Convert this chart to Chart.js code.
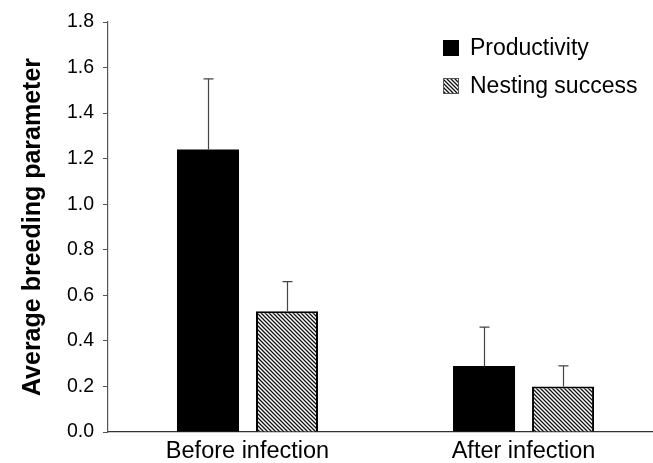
<!DOCTYPE html>
<html>
<head>
<meta charset="utf-8">
<script src="https://cdn.jsdelivr.net/npm/chart.js@4"></script>
<style>
html,body{margin:0;padding:0;background:#fff;}
#wrap{width:653px;height:463px;}
</style>
</head>
<body>
<div id="wrap"><canvas id="c" width="653" height="463"></canvas></div>
<script>
const categories = ['Before infection', 'After infection'];
const seriesLabels = ['Productivity', 'Nesting success'];
const productivity = [1.24, 0.29];
const productivityErr = [0.31, 0.17];
const nesting = [0.53, 0.20];
const nestingErr = [0.13, 0.09];
const yTicks = [0, 0.2, 0.4, 0.6, 0.8, 1.0, 1.2, 1.4, 1.6, 1.8];

const FONT = "'Liberation Sans', Arial, Helvetica, sans-serif";

function makeHatch() {
  const s = 4;
  const cv = document.createElement('canvas');
  cv.width = s; cv.height = s;
  const g = cv.getContext('2d');
  g.fillStyle = '#fff';
  g.fillRect(0, 0, s, s);
  g.strokeStyle = '#111';
  g.lineWidth = 1.3;
  g.beginPath();
  g.moveTo(-1, -1); g.lineTo(s + 1, s + 1);
  g.moveTo(-1, s - 1); g.lineTo(1, s + 1);
  g.moveTo(s - 1, -1); g.lineTo(s + 1, 1);
  g.stroke();
  return g.createPattern(cv, 'repeat');
}
const hatch = makeHatch();

const toXY = (arr) => arr.map((v, i) => ({x: i + 1, y: v}));

const errorBars = {
  id: 'errorBars',
  afterDatasetsDraw(chart) {
    const ctx = chart.ctx;
    const yScale = chart.scales.y;
    chart.data.datasets.forEach((ds, di) => {
      const meta = chart.getDatasetMeta(di);
      meta.data.forEach((bar, i) => {
        const top = yScale.getPixelForValue(ds.data[i].y + ds.err[i]);
        const x = Math.round(bar.x) + 0.5;
        ctx.save();
        ctx.strokeStyle = '#444';
        ctx.lineWidth = 1.2;
        ctx.beginPath();
        ctx.moveTo(x, bar.y);
        ctx.lineTo(x, top);
        ctx.moveTo(x - 5, top);
        ctx.lineTo(x + 5, top);
        ctx.stroke();
        ctx.restore();
      });
    });
  }
};

const customLegend = {
  id: 'customLegend',
  afterDraw(chart) {
    const ctx = chart.ctx;
    const items = chart.data.datasets;
    const x0 = 443, box = 16, gap = 38, y0 = 48;
    ctx.save();
    ctx.font = '23px ' + FONT;
    ctx.textBaseline = 'middle';
    ctx.textAlign = 'left';
    items.forEach((ds, i) => {
      const cy = y0 + i * gap;
      ctx.fillStyle = ds.backgroundColor;
      ctx.fillRect(x0, cy - box / 2, box, box);
      if (i === 1) {
        ctx.strokeStyle = '#555';
        ctx.lineWidth = 1;
        ctx.strokeRect(x0 + 0.5, cy - box / 2 + 0.5, box - 1, box - 1);
      }
      ctx.fillStyle = '#000';
      ctx.fillText(ds.label, 470, cy + 1);
    });
    ctx.restore();
  }
};

new Chart(document.getElementById('c'), {
  type: 'bar',
  data: {
    datasets: [
      {label: seriesLabels[0], data: toXY(productivity), err: productivityErr,
       backgroundColor: '#000', borderColor: '#000', borderWidth: 0,
       categoryPercentage: 0.5725, barPercentage: 0.785},
      {label: seriesLabels[1], data: toXY(nesting), err: nestingErr,
       backgroundColor: hatch, borderColor: '#000', borderWidth: 2,
       categoryPercentage: 0.5725, barPercentage: 0.785}
    ]
  },
  options: {
    responsive: false,
    animation: false,
    events: [],
    layout: {padding: {top: 22, right: 0, bottom: 0, left: 0}},
    plugins: {legend: {display: false}, tooltip: {enabled: false}},
    scales: {
      x: {
        type: 'linear',
        offset: false,
        min: 0.4946,
        max: 2.469,
        afterBuildTicks: (scale) => { scale.ticks = categories.map((c, i) => ({value: i + 1})); },
        afterFit: (scale) => { scale.height = 31; },
        grid: {display: true, drawOnChartArea: false, drawTicks: false},
        border: {display: true, color: '#333', width: 1.2},
        ticks: {
          autoSkip: false, maxRotation: 0, padding: 5, color: '#000',
          font: {family: FONT, size: 23.5},
          callback: (v) => categories[v - 1]
        }
      },
      y: {
        min: 0,
        max: 1.8,
        afterBuildTicks: (scale) => { scale.ticks = yTicks.map(v => ({value: v})); },
        afterFit: (scale) => { scale.width = 108; },
        grid: {display: true, drawOnChartArea: false, drawTicks: true, tickLength: 5, color: '#555'},
        border: {display: true, color: '#555', width: 1.2},
        ticks: {
          padding: 9, color: '#000',
          font: {family: FONT, size: 19.5},
          callback: (v) => Number(v).toFixed(1)
        },
        title: {
          display: true,
          text: 'Average breeding parameter',
          color: '#000',
          padding: {top: 18, bottom: 0},
          font: {family: FONT, size: 25, weight: 'bold'}
        }
      }
    }
  },
  plugins: [errorBars, customLegend]
});
</script>
</body>
</html>
